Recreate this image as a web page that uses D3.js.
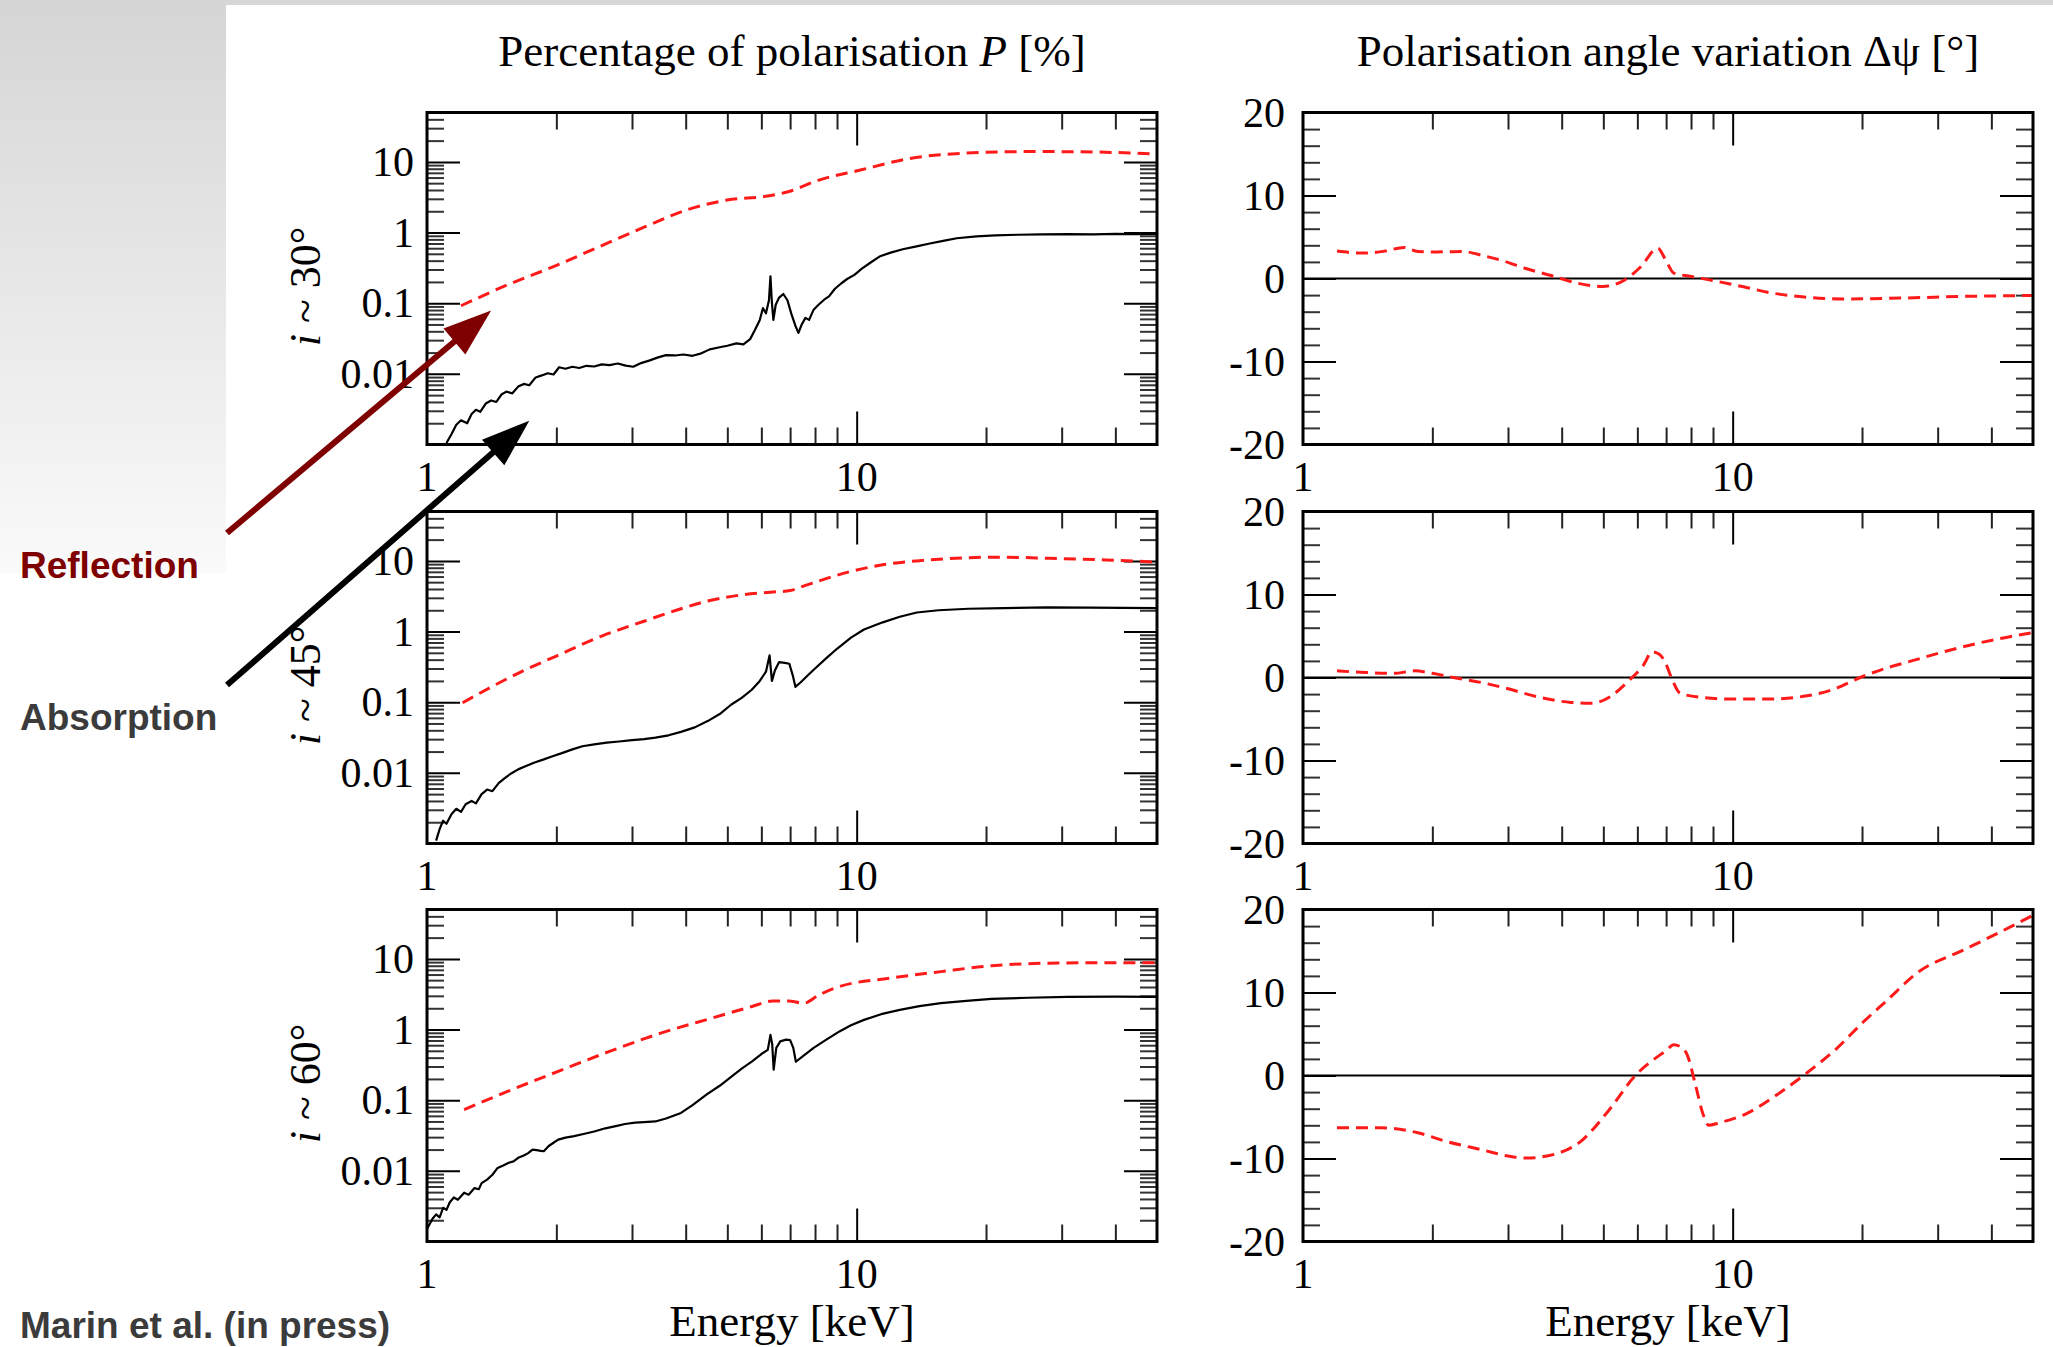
<!DOCTYPE html>
<html>
<head>
<meta charset="utf-8">
<script src="https://cdn.jsdelivr.net/npm/d3@7"></script>
<style>
  body { margin: 0; background: #fff; }
  svg { display: block; }
</style>
</head>
<body>
<div id="chart"></div>
<script>
// ---- data ----
const energyLabels = [1, 10];
const polLabels = [10, 1, 0.1, 0.01];
const angleLabels = [20, 10, 0, -10, -20];
const inclinations = ["30°", "45°", "60°"];

// reflection (red dashed) polarisation degree P [%]
const reflP30 = [[1.2,0.092],[1.54,0.182],[1.97,0.33],[2.52,0.632],[3.22,1.21],[4.01,2.08],[4.99,2.88],[6.21,3.29],[6.93,3.78],[8.17,5.53],[10.2,7.66],[13.3,11.2],[17.5,13.2],[25.7,14.0],[35.6,13.8],[50,12.9]];
const reflP45 = [[1.21,0.098],[1.4,0.16],[1.68,0.28],[2.0,0.45],[2.56,0.87],[3.2,1.4],[3.9,2.1],[4.5,2.7],[5.5,3.35],[6.3,3.6],[7.0,3.8],[7.6,4.5],[9.7,7.1],[11.5,8.8],[13.8,10.0],[17,10.9],[21,11.3],[28,10.9],[38,10.3],[50,9.6]];
const reflP60 = [[1.22,0.0735],[1.54,0.133],[2.02,0.256],[2.66,0.491],[3.5,0.889],[4.6,1.45],[5.71,2.12],[6.38,2.54],[6.93,2.54],[7.53,2.36],[8.17,3.09],[9.12,4.06],[11.95,5.32],[15.7,6.6],[20.6,8.0],[27.2,8.66],[35.6,8.8],[50,8.8]];

// absorption (black solid) polarisation degree P [%]
const absP30 = [[1.11,0.00105],[1.14,0.0014],[1.17,0.0019],[1.2,0.0022],[1.24,0.002],[1.27,0.0027],[1.3,0.0031],[1.33,0.0029],[1.37,0.0038],[1.41,0.0042],[1.45,0.004],[1.49,0.0051],[1.53,0.0056],[1.58,0.0053],[1.63,0.0066],[1.68,0.0072],[1.73,0.0069],[1.79,0.0089],[1.85,0.0095],[1.91,0.0102],[1.97,0.0098],[2.03,0.0124],[2.1,0.0118],[2.18,0.0126],[2.26,0.0121],[2.35,0.013],[2.45,0.0127],[2.55,0.0136],[2.66,0.0133],[2.78,0.014],[2.9,0.0131],[3.02,0.0126],[3.15,0.0142],[3.3,0.0155],[3.45,0.0171],[3.6,0.0184],[3.78,0.0182],[3.95,0.0188],[4.15,0.018],[4.35,0.0195],[4.55,0.0222],[4.8,0.0238],[5.0,0.025],[5.25,0.027],[5.45,0.0262],[5.65,0.031],[5.8,0.042],[5.95,0.058],[6.05,0.085],[6.15,0.072],[6.25,0.11],[6.3,0.24],[6.35,0.1],[6.4,0.058],[6.48,0.095],[6.6,0.12],[6.75,0.135],[6.9,0.11],[7.05,0.07],[7.2,0.048],[7.32,0.038],[7.45,0.05],[7.6,0.062],[7.75,0.058],[7.94,0.081],[8.15,0.095],[8.4,0.112],[8.62,0.125],[8.9,0.16],[9.2,0.19],[9.5,0.22],[9.88,0.252],[10.3,0.31],[10.8,0.38],[11.3,0.457],[12.0,0.52],[12.8,0.58],[13.7,0.632],[14.8,0.7],[16.0,0.77],[17.1,0.83],[19.0,0.88],[21.0,0.91],[23.7,0.93],[27.0,0.94],[31.0,0.95],[35.6,0.94],[40.0,0.96],[45.0,0.95],[50,0.96]];
const absP45 = [[1.05,0.0011],[1.07,0.0016],[1.09,0.0021],[1.11,0.0019],[1.14,0.0026],[1.17,0.0031],[1.2,0.0028],[1.23,0.0036],[1.27,0.004],[1.3,0.0037],[1.34,0.005],[1.38,0.0058],[1.42,0.0055],[1.47,0.0072],[1.52,0.0085],[1.57,0.0098],[1.63,0.0112],[1.7,0.0125],[1.78,0.014],[1.87,0.0155],[1.96,0.0172],[2.06,0.019],[2.18,0.0215],[2.3,0.0238],[2.45,0.0253],[2.62,0.0268],[2.8,0.0278],[3.0,0.029],[3.2,0.03],[3.4,0.0315],[3.65,0.034],[3.9,0.038],[4.2,0.044],[4.5,0.054],[4.8,0.068],[5.1,0.092],[5.4,0.115],[5.7,0.15],[5.95,0.2],[6.15,0.27],[6.27,0.46],[6.35,0.2],[6.45,0.28],[6.6,0.37],[6.8,0.36],[6.97,0.35],[7.1,0.24],[7.2,0.165],[7.4,0.19],[7.7,0.24],[8.0,0.3],[8.5,0.42],[9.0,0.57],[9.7,0.82],[10.4,1.07],[11.5,1.35],[12.6,1.62],[13.8,1.86],[15.5,2.0],[18.2,2.1],[22,2.15],[27.7,2.2],[35,2.18],[50,2.15]];
const absP60 = [[1.0,0.0015],[1.03,0.0021],[1.05,0.00242],[1.07,0.0022],[1.09,0.003],[1.11,0.0028],[1.13,0.0036],[1.155,0.0042],[1.18,0.0039],[1.22,0.0049],[1.25,0.0046],[1.29,0.0057],[1.32,0.0055],[1.34,0.0067],[1.38,0.0075],[1.42,0.0088],[1.46,0.011],[1.5,0.0118],[1.55,0.013],[1.59,0.0136],[1.63,0.0153],[1.68,0.0165],[1.72,0.0178],[1.76,0.02],[1.8,0.0196],[1.84,0.0192],[1.87,0.019],[1.92,0.0225],[1.97,0.025],[2.02,0.0277],[2.1,0.0295],[2.2,0.031],[2.3,0.033],[2.45,0.036],[2.6,0.04],[2.75,0.043],[2.89,0.046],[3.05,0.048],[3.2,0.049],[3.4,0.05],[3.6,0.055],[3.9,0.066],[4.15,0.085],[4.47,0.12],[4.8,0.16],[5.12,0.217],[5.4,0.28],[5.71,0.354],[6.0,0.45],[6.21,0.516],[6.3,0.84],[6.36,0.62],[6.41,0.27],[6.5,0.55],[6.64,0.68],[6.85,0.72],[7.0,0.71],[7.12,0.55],[7.22,0.35],[7.5,0.42],[7.94,0.55],[8.5,0.72],[9.12,0.94],[9.7,1.15],[10.4,1.37],[11.4,1.65],[12.6,1.9],[14,2.15],[15.7,2.36],[18,2.55],[20.6,2.71],[25,2.82],[31,2.9],[40,2.92],[50,2.9]];

// polarisation angle variation Δψ [°]
const reflA30 = [[1.2,3.3],[1.38,3.06],[1.55,3.3],[1.72,3.75],[1.85,3.26],[2.05,3.2],[2.34,3.26],[2.65,2.7],[2.95,2.06],[3.3,1.2],[3.84,0.25],[4.3,-0.5],[4.99,-0.95],[5.62,-0.14],[6.12,1.45],[6.69,3.66],[6.98,2.26],[7.29,0.66],[8.0,0.25],[9.21,-0.35],[10.6,-1.0],[12.3,-1.74],[14.5,-2.2],[18.0,-2.46],[25.5,-2.34],[35,-2.15],[50,-2.05]];
const reflA45 = [[1.2,0.8],[1.4,0.6],[1.63,0.5],[1.82,0.8],[2.0,0.5],[2.24,0.0],[2.6,-0.6],[2.97,-1.3],[3.5,-2.3],[4.2,-3.0],[4.7,-3.1],[5.19,-2.3],[5.7,-0.5],[6.2,1.5],[6.5,3.1],[6.75,2.8],[6.97,1.8],[7.2,0.0],[7.55,-1.9],[8.5,-2.4],[10,-2.6],[12.1,-2.6],[14.5,-2.3],[17.2,-1.4],[19.8,0.0],[23,1.2],[26.1,2.0],[31,3.1],[37,4.1],[43,4.8],[50,5.4]];
const reflA60 = [[1.2,-6.3],[1.51,-6.3],[1.85,-6.9],[2.14,-7.9],[2.63,-9.0],[3.0,-9.7],[3.3,-9.95],[3.84,-9.5],[4.44,-7.9],[5.13,-4.3],[5.96,0.1],[6.5,1.8],[7.0,3.0],[7.29,3.7],[7.6,3.4],[7.85,2.4],[8.19,-1.1],[8.55,-4.8],[8.8,-6.0],[9.3,-5.7],[10.66,-4.7],[12.7,-2.3],[14.7,0.1],[17.5,3.3],[20,6.3],[22.7,8.9],[27.1,12.5],[34.4,15.1],[42,17.3],[50,19.3]];
const absA = [[1,0],[50,0]];

const polRows = [[reflP30, absP30], [reflP45, absP45], [reflP60, absP60]];
const angRows = [[reflA30, absA], [reflA45, absA], [reflA60, absA]];

// ---- layout ----
const width = 2053, height = 1347;
const plotW = 730, plotH = 332;
const colX = [427, 1303];
const rowY = [112.5, 511.5, 909.5];
const serif = "'Liberation Serif', 'Times New Roman', serif";
const sans = "'Liberation Sans', Arial, sans-serif";

const svg = d3.select("#chart").append("svg")
  .attr("width", width)
  .attr("height", height);

// slide background
const defs = svg.append("defs");
const grad = defs.append("linearGradient")
  .attr("id", "bg").attr("x1", 0).attr("y1", 0).attr("x2", 0).attr("y2", 1);
grad.append("stop").attr("offset", 0).attr("stop-color", "#d5d5d5");
grad.append("stop").attr("offset", 1).attr("stop-color", "#fafafa");
svg.append("rect").attr("width", width).attr("height", height).attr("fill", "#fff");
svg.append("rect").attr("width", 226).attr("height", 573).attr("fill", "url(#bg)");
svg.append("rect").attr("width", width).attr("height", 5).attr("fill", "#d6d6d6");

const x = d3.scaleLog().domain([1, 50]).range([0, plotW]);
const yP = d3.scaleLog().domain([0.001, 50]).range([plotH, 0]);
const yA = d3.scaleLinear().domain([-20, 20]).range([plotH, 0]);

defs.append("clipPath").attr("id", "clip")
  .append("rect").attr("width", plotW).attr("height", plotH);

// tick helper: inward ticks, no labels
function ticks(g, axisFn, scale, values, size, transform, color) {
  g.append("g")
    .attr("transform", transform)
    .call(axisFn(scale).tickValues(values).tickSize(-size).tickFormat(""))
    .call(s => s.select(".domain").remove())
    .selectAll("line")
      .attr("stroke", color)
      .attr("stroke-width", 2);
}

const xMajor = [10];
const xMinor = x.ticks().filter(v => v > 1 && v < 50 && v !== 10);

function drawPanel(gx, gy, y, yMajor, yMinor, yLabels, series, isLog) {
  const g = svg.append("g").attr("transform", `translate(${gx},${gy})`);

  // x ticks bottom & top
  ticks(g, d3.axisBottom, x, xMinor, 17, `translate(0,${plotH})`, "#222");
  ticks(g, d3.axisBottom, x, xMajor, 33, `translate(0,${plotH})`, "#000");
  ticks(g, d3.axisTop, x, xMinor, 17, "translate(0,0)", "#222");
  ticks(g, d3.axisTop, x, xMajor, 33, "translate(0,0)", "#000");
  // y ticks left & right
  ticks(g, d3.axisLeft, y, yMinor, 17, "translate(0,0)", "#333");
  ticks(g, d3.axisLeft, y, yMajor, 33, "translate(0,0)", "#000");
  ticks(g, d3.axisRight, y, yMinor, 17, `translate(${plotW},0)`, "#333");
  ticks(g, d3.axisRight, y, yMajor, 33, `translate(${plotW},0)`, "#000");

  // series
  const line = d3.line()
    .x(d => x(d[0]))
    .y(d => y(d[1]));
  const lines = g.append("g").attr("clip-path", "url(#clip)");
  lines.append("path")
    .datum(series[1])
    .attr("fill", "none")
    .attr("stroke", "#000")
    .attr("stroke-width", 2.2)
    .attr("stroke-linejoin", "round")
    .attr("d", line);
  lines.append("path")
    .datum(series[0])
    .attr("fill", "none")
    .attr("stroke", "#ff1a1a")
    .attr("stroke-width", 3)
    .attr("stroke-dasharray", "12,7")
    .attr("d", line.curve(d3.curveMonotoneX));

  // frame
  g.append("rect")
    .attr("width", plotW).attr("height", plotH)
    .attr("fill", "none")
    .attr("stroke", "#000")
    .attr("stroke-width", 3);

  // tick labels
  g.selectAll(".ylab")
    .data(yLabels)
    .enter().append("text")
      .attr("x", isLog ? -13 : -18)
      .attr("y", d => y(d))
      .attr("dy", "0.34em")
      .attr("text-anchor", "end")
      .style("font-family", serif)
      .style("font-size", "42px")
      .text(d => d);
  g.selectAll(".xlab")
    .data(energyLabels)
    .enter().append("text")
      .attr("x", d => x(d))
      .attr("y", plotH + 46)
      .attr("text-anchor", "middle")
      .style("font-family", serif)
      .style("font-size", "42px")
      .text(d => d);
  return g;
}

const polMinor = yP.ticks().filter(v => v > 0.001 && v < 50 && !polLabels.includes(v));
const angMinor = d3.range(-18, 20, 2).filter(v => v % 10 !== 0);

rowY.forEach((ry, i) => {
  drawPanel(colX[0], ry, yP, polLabels, polMinor, polLabels, polRows[i], true);
  drawPanel(colX[1], ry, yA, [-10, 0, 10], angMinor, angleLabels, angRows[i], false);

  // row label  i ~ 30°
  const t = svg.append("text")
    .attr("transform", `translate(320,${ry + plotH / 2 + 8}) rotate(-90)`)
    .attr("text-anchor", "middle")
    .style("font-family", serif)
    .style("font-size", "44px");
  t.append("tspan").style("font-style", "italic").text("i");
  t.append("tspan").text(" ~ " + inclinations[i]);
});

// column titles
const t1 = svg.append("text")
  .attr("x", colX[0] + plotW / 2).attr("y", 66)
  .attr("text-anchor", "middle")
  .style("font-family", serif).style("font-size", "45px");
t1.append("tspan").text("Percentage of polarisation ");
t1.append("tspan").style("font-style", "italic").text("P");
t1.append("tspan").text(" [%]");

svg.append("text")
  .attr("x", colX[1] + plotW / 2).attr("y", 66)
  .attr("text-anchor", "middle")
  .style("font-family", serif).style("font-size", "45px")
  .text("Polarisation angle variation \u0394\u03c8 [°]");

colX.forEach(cx => {
  svg.append("text")
    .attr("x", cx + plotW / 2).attr("y", 1336)
    .attr("text-anchor", "middle")
    .style("font-family", serif).style("font-size", "45px")
    .text("Energy [keV]");
});

// annotations
svg.append("text").attr("x", 20).attr("y", 578)
  .style("font-family", sans).style("font-weight", "bold").style("font-size", "37px")
  .attr("fill", "#7f0000").text("Reflection");
svg.append("text").attr("x", 20).attr("y", 730)
  .style("font-family", sans).style("font-weight", "bold").style("font-size", "37px")
  .attr("fill", "#3b3b3b").text("Absorption");
svg.append("text").attr("x", 20).attr("y", 1338)
  .style("font-family", sans).style("font-weight", "bold").style("font-size", "37px")
  .attr("fill", "#3b3b3b").text("Marin et al. (in press)");

function arrow(x0, y0, x1, y1, color) {
  const dx = x1 - x0, dy = y1 - y0;
  const len = Math.hypot(dx, dy);
  const ux = dx / len, uy = dy / len;
  const headL = 48, headW = 17;
  const bx = x1 - ux * headL, by = y1 - uy * headL;
  svg.append("line")
    .attr("x1", x0).attr("y1", y0)
    .attr("x2", bx + ux * 4).attr("y2", by + uy * 4)
    .attr("stroke", color).attr("stroke-width", 6);
  svg.append("path")
    .attr("d", `M${x1},${y1}L${bx - uy * headW},${by + ux * headW}L${bx + uy * headW},${by - ux * headW}Z`)
    .attr("fill", color);
}
// arrows point at the curves in the top-left panel
arrow(227, 533, colX[0] + x(1.41), rowY[0] + yP(0.0785), "#7f0000");
arrow(227, 685, colX[0] + x(1.73), rowY[0] + yP(0.00216), "#000");
</script>
</body>
</html>
